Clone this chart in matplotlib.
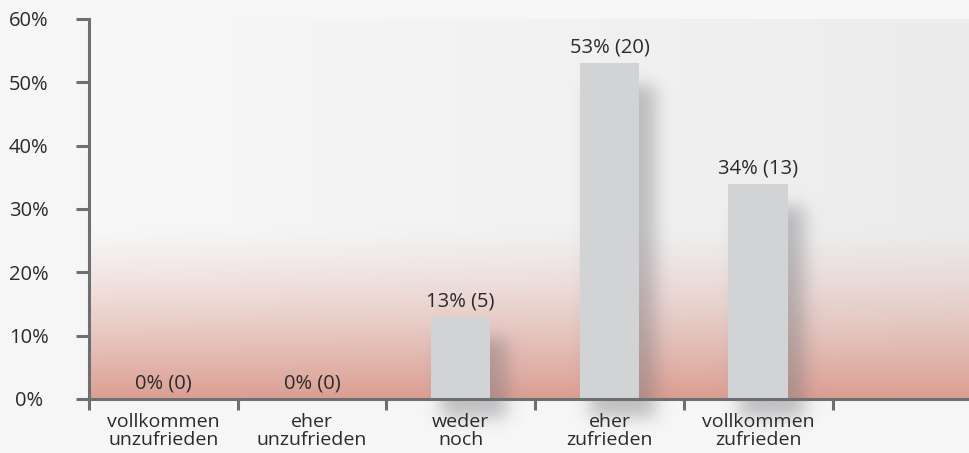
import math
import numpy as np
import matplotlib
matplotlib.use("Agg")
import matplotlib.pyplot as plt

# survey answers
categories = ["vollkommen\nunzufrieden", "eher\nunzufrieden", "weder\nnoch",
              "eher\nzufrieden", "vollkommen\nzufrieden"]
percent = [0, 0, 13, 53, 34]
counts = [0, 0, 5, 20, 13]
yticks = [0, 10, 20, 30, 40, 50, 60]

plt.rcParams["font.family"] = ["Open Sans", "DejaVu Sans"]

erf = np.vectorize(math.erf)


def soft_box(v, lo, hi, s):
    # box from lo to hi, smeared by a gaussian of width s
    return 0.5 * (erf((v - lo) / (s * math.sqrt(2))) - erf((v - hi) / (s * math.sqrt(2))))


W, H = 969, 453
fig = plt.figure(figsize=(W / 100, H / 100), dpi=100, facecolor="#f6f6f6")
ax = fig.add_axes([89 / W, (H - 399) / H, (W - 89) / W, 380 / H])

x0, x1 = -0.5, 880 / 148.7 - 0.5
y0, y1 = 0, 60

# background: light grey fading into a salmon tint near the baseline
gx = np.linspace(0, 1, 880)
gy = np.linspace(y0, y1, 380)
XX, YY = np.meshgrid(gx, gy)
base = np.stack([248 - 12 * XX, 248 - 12 * XX, 248 - 11 * XX], axis=-1)
w = np.clip((28 - YY) / 28, 0, 1) ** 1.35
pink = np.array([219, 158, 146])
bg = base * (1 - w[..., None]) + pink * w[..., None]
ax.imshow(bg / 255, extent=(x0, x1, y0, y1), origin="lower", aspect="auto",
          interpolation="nearest", zorder=0)

# blurred drop shadows, offset to the lower right of each bar
bar_w = 0.4
for i, p in enumerate(percent):
    if p <= 0:
        continue
    sx = np.linspace(i - 0.5, i + 0.75, 190)
    sy = np.linspace(-9, p + 2, 300)
    SX, SY = np.meshgrid(sx, sy)
    a = soft_box(SX, i - bar_w / 2 + 0.07, i + bar_w / 2 + 0.11, 0.06) * \
        soft_box(SY, -3.0, p - 3.5, 1.3)
    sh = np.zeros(SX.shape + (4,))
    sh[..., 0] = 0.45
    sh[..., 1] = 0.45
    sh[..., 2] = 0.47
    sh[..., 3] = 0.42 * a
    ax.imshow(sh, extent=(sx[0], sx[-1], sy[0], sy[-1]), origin="lower",
              aspect="auto", interpolation="bilinear", zorder=1, clip_on=False)

xs = np.arange(len(categories))
ax.bar(xs, percent, width=bar_w, color="#d2d3d5", zorder=2)

for i, (p, c) in enumerate(zip(percent, counts)):
    ax.annotate(f"{p}% ({c})", (i, p), xytext=(0, 4), textcoords="offset points",
                ha="center", va="bottom", fontsize=14.5, color="#2b2b2b", zorder=4)

ax.set_xlim(x0, x1)
ax.set_ylim(y0, y1)

axis_col = "#6e6f73"
for side in ["top", "right"]:
    ax.spines[side].set_visible(False)
for side in ["left", "bottom"]:
    ax.spines[side].set_color(axis_col)
    ax.spines[side].set_linewidth(2.2)
    ax.spines[side].set_zorder(3)

ax.set_yticks(yticks)
ax.set_yticklabels([f"{v}%" for v in yticks])
ax.tick_params(axis="y", length=9.5, width=2.2, color=axis_col, pad=34,
               labelsize=14.5, labelcolor="#2b2b2b")
for lab in ax.get_yticklabels():
    lab.set_horizontalalignment("center")

ax.set_xticks(np.arange(-0.5, len(categories), 1.0))
ax.set_xticklabels([])
ax.set_xticks(xs, minor=True)
ax.set_xticklabels(categories, minor=True)
ax.tick_params(axis="x", which="major", length=8, width=2.2, color=axis_col)
ax.tick_params(axis="x", which="minor", length=0, pad=10, labelsize=14,
               labelcolor="#2b2b2b")
for lab in ax.get_xticklabels(minor=True):
    lab.set_linespacing(1.0)

fig.savefig("out.png", dpi=100, facecolor=fig.get_facecolor())
